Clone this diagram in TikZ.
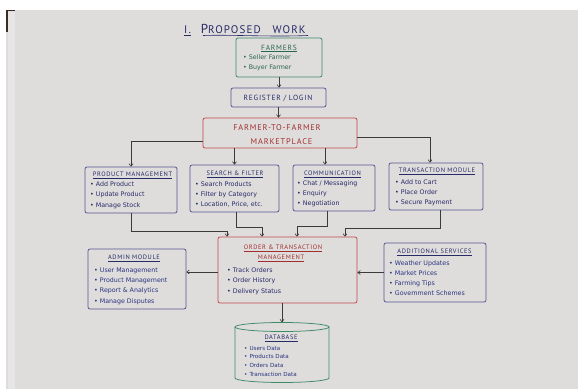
\documentclass[tikz,border=0pt]{standalone}
\usepackage{fontspec}
\setmainfont{DejaVu Sans}
\newfontfamily\hfont[LetterSpace=10]{PT Sans}
\usetikzlibrary{arrows.meta,calc}
\definecolor{paper}{HTML}{DFDCDC}
\definecolor{paperedge}{HTML}{E7E5E5}
\definecolor{navy}{HTML}{262A66}
\definecolor{bluetext}{HTML}{28347E}
\definecolor{modline}{HTML}{55558E}
\definecolor{grn}{HTML}{3D8A68}
\definecolor{grntext}{HTML}{2A6650}
\definecolor{redline}{HTML}{C24A4A}
\definecolor{redtext}{HTML}{A02E2E}
\definecolor{wire}{HTML}{3A3A3A}
\definecolor{edgebrown}{HTML}{3B2B22}
\tikzset{
  modbox/.style={draw=modline, line width=0.75pt, rounded corners=2pt, inner sep=0pt},
  grnbox/.style={modbox, draw=grn},
  redbox/.style={modbox, draw=redline},
  conn/.style={draw=wire, line width=0.6pt, -{Straight Barb[length=2.5pt,width=4pt]}},
  itm/.style={inner sep=0pt, text=navy, font=\fontsize{6.3}{7}\selectfont},
  head/.style={inner sep=0pt, text=navy, font=\hfont\fontsize{6.4}{7}\selectfont},
  mptext/.style={inner sep=0pt, text=redtext, font=\hfont\fontsize{8.3}{9}\selectfont},
  titletext/.style={inner sep=0pt, text=navy, font=\hfont\fontsize{11}{12}\selectfont}
}
\newcommand\blist[6]{%
  \foreach \itmtext [count=\i] in {#6}{%
    \node[itm, #1, anchor=base west] (#2\i) at (#3,{#4+2.2+(\i-1)*#5}) {\textbullet\hspace{2pt}\itmtext};}}
\begin{document}
\begin{tikzpicture}[x=1pt,y=-1pt]
% background
\fill[white] (0,0) rectangle (578,389);
\fill[paper] (6,10) rectangle (578,389);
\fill[paperedge] (8,12) rectangle (15,389);
\fill[edgebrown] (6,10) rectangle (8,32);
\fill[edgebrown] (6,10) rectangle (15,11);
\useasboundingbox (0,0) rectangle (578,389);

% title
\node[titletext, anchor=base west] (title) at (184,33)
  {I.\hspace{10pt}{\fontsize{13}{12}\selectfont P}ROPOSED\hspace{12pt}WORK};
\draw[navy, line width=0.6pt] (184,35.5) -- (191,35.5);
\draw[navy, line width=0.6pt] (203,35.5) .. controls (230,34.5) and (270,37) .. (308,35.5);

% boxes
\node[grnbox, minimum width=86pt, minimum height=39pt] (farm) at (279,57.5) {};
\node[modbox, minimum width=95pt, minimum height=19pt] (reg) at (278.5,97.5) {};
\node[redbox, minimum width=154pt, minimum height=30pt] (mp) at (280,133) {};
\node[modbox, minimum width=92pt, minimum height=46pt] (pm) at (131,190) {};
\node[modbox, minimum width=89pt, minimum height=47pt] (sf) at (234.5,188.5) {};
\node[modbox, minimum width=82pt, minimum height=46pt] (cm) at (334,188) {};
\node[modbox, minimum width=94pt, minimum height=47pt] (tm) at (436,186.5) {};
\node[redbox, minimum width=139pt, minimum height=66pt] (om) at (287.5,270) {};
\node[modbox, minimum width=98pt, minimum height=60pt] (am) at (137,279) {};
\node[modbox, minimum width=102pt, minimum height=59pt] (as) at (435,272.5) {};
\node[inner sep=0pt, minimum width=94pt, minimum height=60pt] (db) at (282,352.5) {};
% database cylinder
\draw[grn, line width=0.75pt] (235,327) -- (235,378)
  arc[start angle=180, end angle=360, x radius=47pt, y radius=4.5pt] -- (329,327);
\draw[grn, line width=0.75pt] (282,327) ellipse [x radius=47pt, y radius=4.5pt];

% texts: farmers
\node[head, text=grntext, font=\hfont\fontsize{7.5}{8}\selectfont, anchor=base] (farmh) at (279,50) {\underline{FARMERS}};
\blist{text=grntext}{farmi}{243}{57}{10}{Seller Farmer, Buyer Farmer}
\node[head, font=\hfont\fontsize{7.5}{8}\selectfont, anchor=base] (regt) at (278,100) {REGISTER / LOGIN};
\node[mptext, anchor=base] (mpt1) at (277,130) {FARMER-TO-FARMER};
\node[mptext, anchor=base] (mpt2) at (281.5,144) {MARKETPLACE};

% module headings and lists
\node[head, anchor=base] (pmh) at (132.5,176.4) {\underline{PRODUCT MANAGEMENT}};
\blist{}{pmi}{90}{184}{10.5}{Add Product, Update Product, Manage Stock}
\node[head, anchor=base] (sfh) at (235,175.4) {\underline{SEARCH \& FILTER}};
\blist{}{sfi}{195}{184}{10.3}{Search Products, Filter by Category, {Location, Price, etc.}}
\node[head, anchor=base] (cmh) at (332.5,175.4) {\underline{COMMUNICATION}};
\blist{}{cmi}{297}{183}{10}{Chat / Messaging, Enquiry, Negotiation}
\node[head, anchor=base] (tmh) at (437,172.4) {\underline{TRANSACTION MODULE}};
\blist{}{tmi}{395}{182}{10}{Add to Cart, Place Order, Secure Payment}
\node[head, anchor=base] (amh) at (134,259.4) {\underline{ADMIN MODULE}};
\blist{text=bluetext}{ami}{94}{270}{10.3}{User Management, Product Management, Report \& Analytics, Manage Disputes}
\node[head, anchor=base] (ash) at (434.5,253.4) {\underline{ADDITIONAL SERVICES}};
\blist{text=bluetext}{asi}{389}{263}{10}{Weather Updates, Market Prices, Farming Tips, Government Schemes}
\node[head, text=redtext, anchor=base] (omh1) at (283,249.4) {\underline{ORDER \& TRANSACTION}};
\node[head, text=redtext, anchor=base] (omh2) at (281,259.4) {\underline{MANAGEMENT}};
\blist{}{omi}{227}{270}{10.5}{Track Orders, Order History, Delivery Status}
\node[head, anchor=base] (dbh) at (281,339.4) {\underline{DATABASE}};
\blist{text=bluetext, font=\fontsize{5.6}{7}\selectfont}{dbi}{244}{348}{8.7}{Users Data, Products Data, Orders Data, Transaction Data}

% connectors
\draw[conn] (farm.south) -- (farm.south |- reg.north);
\draw[conn] (reg.south) -- (reg.south |- mp.north);
\draw[conn] ([yshift=-8pt]mp.west) -| (pm.north);
\draw[conn] (sf.north |- mp.south) -- (sf.north);
\coordinate (cmtop) at ([xshift=-9pt]cm.north);
\draw[conn] (cmtop |- mp.south) -- (cmtop);
\coordinate (mpR) at ([yshift=-4pt]mp.east);
\coordinate (tmtop) at ([xshift=-6pt]tm.north);
\draw[conn] (mpR) -| (tmtop);

\draw[conn] (pm.south) |- ($(om.north)+(-60.5,-5)$) -- ($(om.north)+(-60.5,0)$);
\coordinate (sfbot) at ([xshift=1.5pt]sf.south);
\draw[conn] (sfbot) |- ($(om.north)+(-25.5,-9)$) -- ($(om.north)+(-25.5,0)$);
\coordinate (cmbot) at ([xshift=-7pt]cm.south);
\draw[conn] (cmbot) |- ($(om.north)+(9.5,-10)$) -- ($(om.north)+(9.5,0)$);
\coordinate (tmbot) at ([xshift=4pt]tm.south);
\draw[conn] (tmbot) |- ($(om.north)+(57.5,-8)$) -- ($(om.north)+(57.5,0)$);

\coordinate (omL) at ([yshift=-2pt]om.west);
\draw[conn] (omL) -- (omL -| am.east);
\draw[conn] (as.west) -- (as.west -| om.east);
\draw[conn] (db.north |- om.south) -- (db.north);
\end{tikzpicture}
\end{document}
